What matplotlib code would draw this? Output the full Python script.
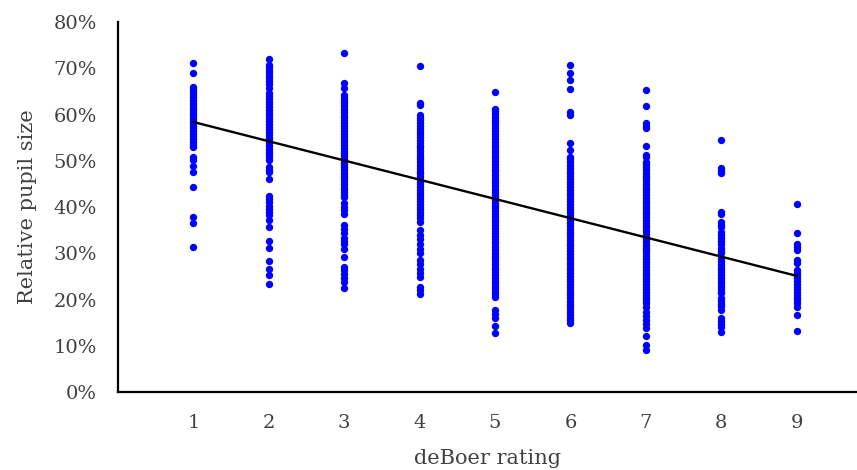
import matplotlib
matplotlib.use('Agg')
import matplotlib.pyplot as plt
from matplotlib.ticker import PercentFormatter

# Pupil size (percent) measured for each deBoer rating
ratings = [1, 2, 3, 4, 5, 6, 7, 8, 9]

pupil_1 = [71.1, 68.9, 66.0, 65.5, 65.0, 64.4, 63.8, 63.2, 62.6, 62.0, 61.5, 61.0, 60.4, 59.8,
           59.2, 58.7, 58.1, 57.6, 57.0, 56.5, 55.9, 55.3, 54.7, 54.1, 53.5, 53.0, 50.9, 50.2,
           48.9, 47.6, 44.3, 37.8, 36.6, 31.4]
pupil_2 = [72.1, 70.7, 70.2, 69.6, 69.0, 68.4, 67.8, 67.2, 66.6, 65.8, 64.6, 64.0, 63.4, 62.8,
           62.2, 61.6, 61.0, 60.4, 59.8, 59.2, 58.6, 58.0, 57.4, 56.8, 56.2, 55.6, 55.0, 54.4,
           53.8, 53.2, 52.6, 52.0, 51.4, 50.8, 50.2, 48.7, 48.1, 47.6, 46.0, 42.4, 41.7, 41.0,
           40.3, 39.6, 38.9, 38.2, 37.2, 35.7, 32.7, 31.1, 28.4, 26.5, 25.3, 23.4]
pupil_3 = [73.4, 66.9, 65.7, 64.2, 63.6, 63.0, 62.4, 61.8, 61.2, 60.6, 60.0, 59.4, 58.8, 58.2,
           57.6, 57.0, 56.4, 55.8, 55.2, 54.6, 54.0, 53.4, 52.8, 52.2, 51.6, 51.0, 50.4, 49.8,
           49.2, 48.6, 48.0, 47.4, 46.8, 46.2, 45.6, 45.0, 44.4, 43.8, 43.2, 42.6, 42.2, 40.8,
           40.0, 39.3, 38.6, 36.1, 35.2, 34.3, 33.4, 32.6, 32.1, 30.9, 29.3, 27.1, 26.3, 25.5,
           24.6, 23.8, 22.4]
pupil_4 = [70.6, 62.4, 62.0, 59.9, 59.3, 58.8, 58.1, 57.5, 56.9, 56.3, 55.7, 55.1, 54.5, 53.9,
           53.3, 52.7, 52.1, 51.5, 50.9, 50.3, 49.7, 49.1, 48.5, 47.9, 47.3, 46.7, 46.1, 45.5,
           44.9, 44.3, 43.7, 43.1, 42.5, 41.9, 41.3, 40.7, 40.1, 39.5, 38.9, 38.3, 37.6, 36.8,
           35.0, 34.0, 33.0, 32.0, 31.0, 30.0, 28.5, 27.6, 26.7, 25.8, 24.9, 22.8, 22.0, 21.2]
pupil_5 = [64.8, 61.3, 60.7, 60.1, 59.5, 58.9, 58.3, 57.7, 57.1, 56.5, 55.9, 55.3, 54.7, 54.1,
           53.5, 52.9, 52.3, 51.7, 51.1, 50.5, 49.9, 49.3, 48.7, 48.1, 47.5, 46.9, 46.3, 45.7,
           45.1, 44.5, 43.9, 43.3, 42.7, 42.1, 41.5, 40.9, 40.3, 39.7, 39.1, 38.5, 37.9, 37.3,
           36.7, 36.1, 35.5, 34.9, 34.3, 33.7, 33.1, 32.5, 31.9, 31.3, 30.7, 30.1, 29.5, 28.9,
           28.3, 27.7, 27.1, 26.5, 25.9, 25.3, 24.7, 24.1, 23.5, 22.9, 22.3, 21.7, 21.1, 20.6,
           17.7, 16.8, 15.9, 14.3, 12.8]
pupil_6 = [70.7, 68.9, 67.5, 65.5, 60.6, 59.9, 53.8, 52.3, 50.9, 50.3, 49.7, 49.1, 48.5, 47.9,
           47.3, 46.7, 46.1, 45.5, 44.9, 44.3, 43.7, 43.1, 42.5, 41.9, 41.3, 40.7, 40.1, 39.5,
           38.9, 38.3, 37.7, 37.1, 36.5, 35.9, 35.3, 34.7, 34.1, 33.5, 32.9, 32.3, 31.7, 31.1,
           30.5, 29.9, 29.3, 28.7, 28.1, 27.5, 26.9, 26.3, 25.7, 25.1, 24.5, 23.9, 23.3, 22.7,
           22.1, 21.5, 20.9, 20.3, 19.7, 19.1, 18.5, 17.9, 17.3, 16.7, 16.1, 15.5, 15.0]
pupil_7 = [65.3, 61.9, 58.1, 57.6, 57.2, 53.2, 51.2, 50.9, 49.8, 49.2, 48.6, 48.0, 47.4, 46.8,
           46.2, 45.6, 45.0, 44.4, 43.8, 43.2, 42.6, 42.0, 41.4, 40.8, 40.2, 39.6, 39.0, 38.4,
           37.8, 37.2, 36.6, 36.0, 35.4, 34.8, 34.2, 33.6, 33.0, 32.4, 31.8, 31.2, 30.6, 30.0,
           29.4, 28.8, 28.2, 27.6, 27.0, 26.4, 25.8, 25.2, 24.6, 24.0, 23.4, 22.8, 22.2, 21.6,
           21.0, 20.4, 19.8, 19.2, 18.4, 17.4, 16.5, 15.6, 14.7, 13.8, 12.0, 10.2, 9.1]
pupil_8 = [54.6, 48.5, 47.9, 47.4, 39.0, 38.6, 36.8, 36.2, 35.7, 34.7, 34.0, 33.4, 32.7, 32.1,
           31.1, 30.5, 30.0, 28.9, 28.3, 27.7, 27.1, 26.5, 25.9, 25.3, 24.7, 24.1, 23.5, 22.9,
           22.3, 21.7, 21.3, 20.3, 19.7, 19.1, 18.5, 17.7, 15.9, 15.3, 14.7, 14.1, 13.0]
pupil_9 = [40.6, 34.3, 32.0, 31.3, 30.7, 28.5, 27.8, 26.4, 25.8, 25.2, 24.6, 24.0, 23.4, 22.8,
           22.2, 21.6, 21.0, 20.4, 19.8, 19.2, 18.4, 16.6, 13.2]

pupil_by_rating = [pupil_1, pupil_2, pupil_3, pupil_4, pupil_5, pupil_6, pupil_7, pupil_8, pupil_9]

# Linear trend (percent)
trend_intercept = 62.55
trend_slope = -4.16

plt.rcParams['font.family'] = ['DejaVu Serif']
text_color = '#404040'

fig = plt.figure(figsize=(8.57, 4.70), dpi=100)
ax = fig.add_axes([0.1377, 0.166, 0.8623, 0.787])

for r, vals in zip(ratings, pupil_by_rating):
    ax.scatter([r] * len(vals), [v / 100 for v in vals], s=28, color='#0000FF',
               linewidths=0, zorder=2)

x_trend = [ratings[0], ratings[-1]]
y_trend = [(trend_intercept + trend_slope * x) / 100 for x in x_trend]
ax.plot(x_trend, y_trend, color='black', linewidth=1.7, zorder=3)

ax.set_xlim(0, 9.8)
ax.set_ylim(0, 0.8)
ax.set_xticks(ratings)
ax.set_yticks([i / 10 for i in range(9)])
ax.yaxis.set_major_formatter(PercentFormatter(1.0, decimals=0))

for side in ['top', 'right']:
    ax.spines[side].set_visible(False)
for side in ['left', 'bottom']:
    ax.spines[side].set_linewidth(1.6)
    ax.spines[side].set_color('black')

ax.tick_params(axis='both', length=0, labelsize=14, labelcolor=text_color)
ax.tick_params(axis='y', pad=15)
ax.tick_params(axis='x', pad=16)

ax.set_xlabel('deBoer rating', fontsize=15, color=text_color, labelpad=12)
ax.set_ylabel('Relative pupil size', fontsize=15, color=text_color, labelpad=12)

plt.savefig('out.png', dpi=100)
